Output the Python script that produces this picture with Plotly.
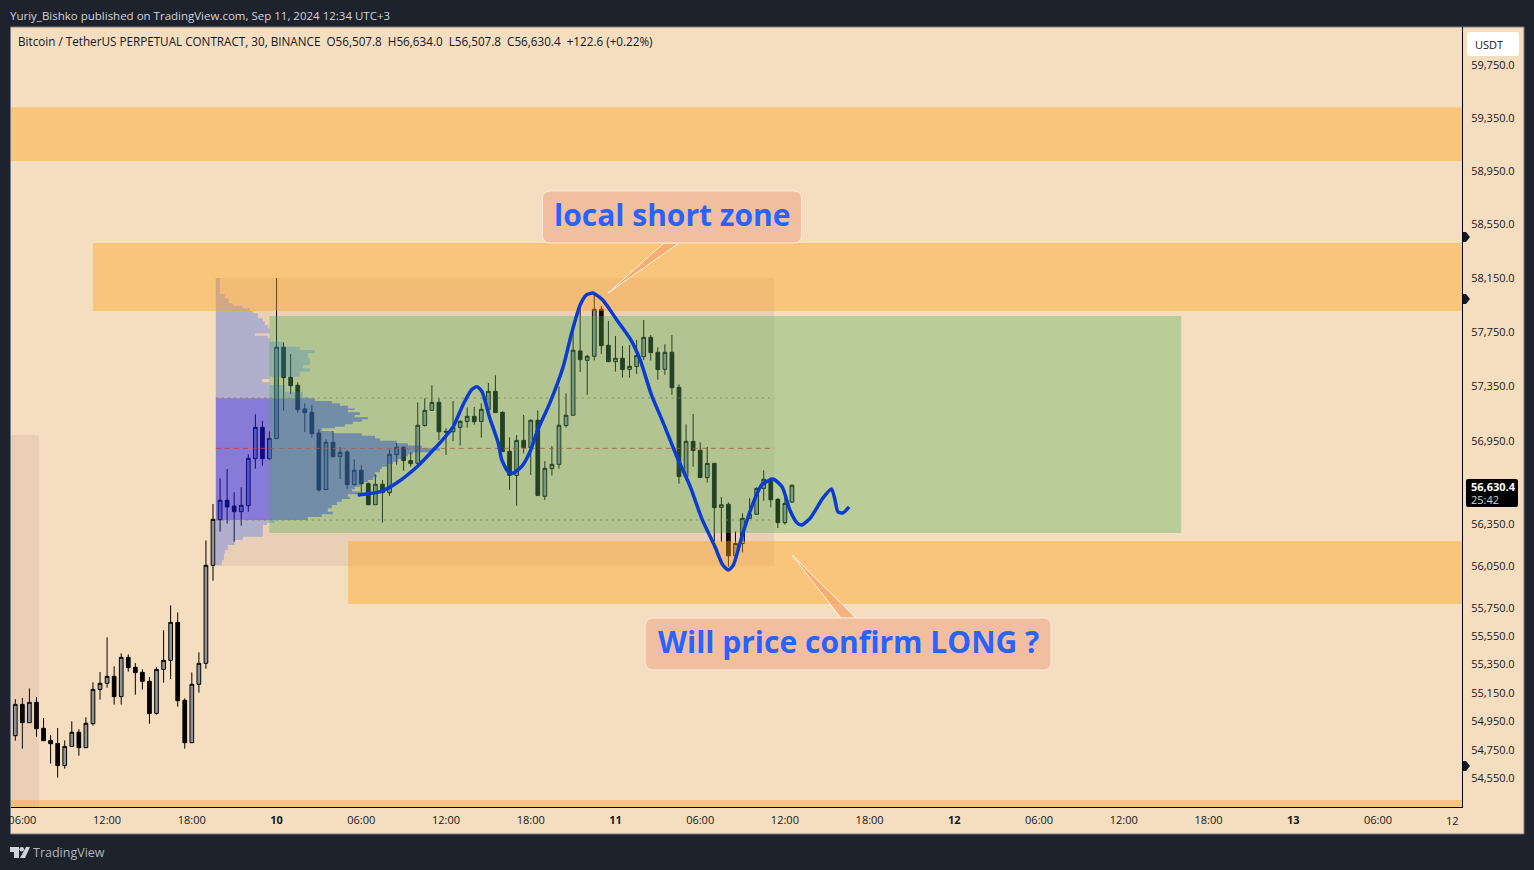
import math
import pandas as pd
import plotly.graph_objects as go

## Candles, 30 min bars from 2024-09-09 05:30
bar_open = [54848,55068,54939,55082,54900,54815,54794,54639,54773,54872,54764,54932,55173,55216,55265,55122,55399,55329,55293,55230,
	55005,55314,55378,55647,55096,54799,55209,55357,56054,56381,56521,56480,56439,56482,56822,57050,56822,56967,57636,57415,
	57357,57184,57159,57009,56598,56941,56837,56871,56634,56738,56641,56489,56637,56576,56851,56905,56808,56788,57063,57174,
	57232,57021,57018,57050,57093,57130,57093,57181,57313,57159,56876,56701,56955,56902,57101,56550,56750,56781,57063,57138,
	57609,57540,57570,57916,57651,57530,57555,57474,57494,57567,57709,57599,57474,57599,57342,56692,56948,56883,56685,56788,
	56470,56492,56122,56210,56391,56420,56607,56670,56528,56360,56507.8]
bar_high = [55105,55113,55180,55120,54972,54851,54902,54815,54949,54893,54977,55223,55296,55541,55336,55428,55421,55359,55314,55260,
	55329,55591,55768,55718,55110,55293,55435,56232,56494,56680,56747,56579,56615,56854,57145,57096,57021,58148,57672,57587,
	57379,57225,57213,57035,56963,57021,56905,56883,56817,56774,56651,56709,56668,56890,56936,56910,56868,57232,57262,57357,
	57262,57043,57242,57103,57196,57198,57225,57374,57430,57167,56977,56994,57140,57108,57174,56805,56914,57349,57298,57768,
	57948,57580,58034,57940,57830,57719,57646,57653,57690,57837,57726,57636,57658,57726,57364,57072,57147,56941,56907,56791,
	56545,56506,56297,56427,56537,56615,56738,56687,56537,56593,56634.0]
bar_low = [54813,54757,54939,54841,54813,54653,54555,54618,54773,54708,54764,54918,55101,55185,55066,55066,55298,55136,55171,54932,
	54996,55220,55246,55052,54757,54799,55150,55319,55944,56295,56353,56223,56338,56439,56750,56771,56815,56967,57172,57293,
	57157,57016,56975,56584,56598,56830,56675,56603,56627,56569,56489,56489,56360,56552,56779,56735,56764,56788,57055,57174,
	56958,56849,56950,56917,57047,57069,56975,57181,57157,56873,56596,56482,56861,56704,56555,56523,56699,56750,57047,57138,
	57454,57286,57540,57587,57530,57457,57413,57413,57440,57543,57538,57398,57433,57286,56641,56692,56764,56685,56649,56228,
	56223,56044,56122,56146,56388,56420,56518,56470,56321,56345,56507.8]
bar_close = [55068,54939,55082,54897,54813,54792,54639,54773,54872,54764,54935,55173,55216,55265,55122,55399,55326,55291,55230,55003,
	55314,55378,55647,55094,54799,55209,55357,56054,56384,56521,56473,56439,56485,56825,57050,56822,56970,57636,57413,57354,
	57179,57157,57004,56596,56941,56837,56868,56634,56738,56641,56489,56637,56576,56854,56905,56808,56786,57065,57174,57232,
	57018,57016,57050,57093,57130,57091,57181,57313,57157,56873,56701,56955,56902,57101,56555,56752,56781,57065,57138,57614,
	57545,57570,57916,57648,57530,57555,57472,57496,57575,57709,57597,57472,57599,57340,56692,56948,56881,56685,56788,56468,
	56489,56122,56210,56391,56420,56607,56673,56525,56360,56499,56630.4]

## Price axis
price_ticks = [59750,59350,58950,58550,58150,57750,57350,56950,56350,56050,55750,55550,55350,55150,54950,54750,54550]
price_low = 54351
price_high = 60041

## Time axis
time_ticks = ['2024-09-09 06:00','2024-09-09 12:00','2024-09-09 18:00','2024-09-10 00:00','2024-09-10 06:00','2024-09-10 12:00',
	'2024-09-10 18:00','2024-09-11 00:00','2024-09-11 06:00','2024-09-11 12:00','2024-09-11 18:00','2024-09-12 00:00',
	'2024-09-12 06:00','2024-09-12 12:00','2024-09-12 18:00','2024-09-13 00:00','2024-09-13 06:00']
time_labels = ['06:00','12:00','18:00','<b>10</b>','06:00','12:00','18:00','<b>11</b>','06:00','12:00','18:00','<b>12</b>',
	'06:00','12:00','18:00','<b>13</b>','06:00']

## Orange zones: start time, top price, bottom price
zone_start = ['2024-09-08 00:00','2024-09-09 11:00','2024-09-10 05:04','2024-09-08 00:00']
zone_top = [59430,58408,56228,54400]
zone_bottom = [59022,57903,55778,54300]
zone_end = '2024-09-15 00:00'

## Volume profile rows: row top price and row volume
vp_price = [58148,58030,57998,57960,57943,57923,57904,57886,57849,57825,57800,57775,57738,57721,57702,57677,57640,57616,57592,57555,
	57506,57481,57457,57420,57403,57379,57359,57310,57272,57262,57242,57225,57208,57188,57176,57159,57140,57123,57108,57091,
	57072,57055,57043,57023,57006,56989,56970,56953,56934,56917,56897,56881,56868,56854,56837,56820,56800,56783,56764,56747,
	56723,56704,56687,56668,56651,56631,56619,56600,56584,56564,56547,56530,56511,56487,56463,56439,56420,56401,56379,56357,
	56343,56307,56259,56235,56199,56163,56139,56091,56055]
vp_volume = [4,9,13,17,27,34,37,42,47,49,52,54,39,52,54,67,84,99,92,94,
	87,94,84,54,46,54,69,87,92,99,116,124,132,139,132,144,139,152,146,137,
	129,119,106,117,146,159,164,181,192,206,224,216,197,192,187,182,177,172,166,164,
	159,161,157,152,146,144,139,136,144,132,134,126,121,116,112,117,106,92,59,
	51,47,47,27,19,12,9,8,6]
vp_bottom = 56049
vp_start = pd.Timestamp('2024-09-09 19:42')
vp_end = '2024-09-11 11:15'
vp_minutes_per_volume = 4.25
poc_price = 56897
vah_price = 57264
val_price = 56379

## Long position box
green_start = '2024-09-09 23:30'
green_end = '2024-09-12 16:04'
green_top = 57867
green_bottom = 56286

## Hand drawn path: bar number and price
path_bar = [48.5,51.7,54.0,56.9,59.2,61.1,62.0,63.4,64.6,65.4,66.1,67.2,68.4,68.9,69.8,70.5,71.7,72.9,74.0,75.7,77.6,78.8,80.0,80.9,81.8,
	83.2,85.2,87.1,88.5,90.1,91.7,93.7,95.6,97.2,99.1,100.2,101.0,101.7,102.9,104.3,105.7,107.3,108.6,109.7,110.7,111.4,112.6,114.4,115.6,116.1,116.5,117.2,118.1]
path_price = [56559,56583,56646,56764,56885,56994,57052,57213,57323,57347,57310,57118,56936,56813,56728,56718,56764,56873,57031,57227,57493,57741,57948,58022,58037,
	57985,57837,57697,57543,57286,57091,56836,56619,56393,56187,56056,56020,56056,56259,56475,56631,56675,56619,56451,56360,56343,56393,56538,56603,56523,56439,56429,56473]

W = 1534
H = 870
left, right, top, bottom = 11, 1462, 27, 807
first_bar = pd.Timestamp('2024-09-09 05:30')
bar_time = [first_bar + pd.Timedelta(minutes=30 * i) for i in range(len(bar_open))]
path_time = [first_bar + pd.Timedelta(minutes=30 * b) for b in path_bar]

FONT = 'Open Sans'
INK = '#131722'

## Pixel position to paper fraction
def px(v):
	return (v - left) / (right - left)
def py(v):
	return (bottom - v) / (bottom - top)

def round_box(x0, y0, x1, y1, r):
	return (f'M{px(x0 + r)},{py(y0)} L{px(x1 - r)},{py(y0)} Q{px(x1)},{py(y0)} {px(x1)},{py(y0 + r)} '
		f'L{px(x1)},{py(y1 - r)} Q{px(x1)},{py(y1)} {px(x1 - r)},{py(y1)} L{px(x0 + r)},{py(y1)} '
		f'Q{px(x0)},{py(y1)} {px(x0)},{py(y1 - r)} L{px(x0)},{py(y0 + r)} Q{px(x0)},{py(y0)} {px(x0 + r)},{py(y0)} Z')

def poly(points):
	return 'M' + ' L'.join(f'{px(a)},{py(b)}' for a, b in points) + ' Z'

fig = go.Figure()
fig.add_trace(go.Candlestick(x=bar_time, open=bar_open, high=bar_high, low=bar_low, close=bar_close,
	increasing=dict(fillcolor='#8E9399', line=dict(color='#000000', width=1)),
	decreasing=dict(fillcolor='#000000', line=dict(color='#000000', width=1)),
	whiskerwidth=0, showlegend=False, hoverinfo='skip'))

def add_box(t0, t1, p0, p1, color):
	fig.add_trace(go.Scatter(x=[t0, t1, t1, t0, t0], y=[p0, p0, p1, p1, p0], mode='lines', fill='toself',
		fillcolor=color, line=dict(width=0), showlegend=False, hoverinfo='skip'))

## Pale session box on the left and the profile's frame
add_box('2024-09-08 00:00', '2024-09-09 07:10', 56994, 54300, 'rgba(135,82,121,0.1)')
add_box(vp_start, vp_end, 58148, vp_bottom, 'rgba(135,82,121,0.1)')

## Volume profile rows
row_x = {True: [], False: []}
row_y = {True: [], False: []}
for i, (p, v) in enumerate(zip(vp_price, vp_volume)):
	p2 = vp_price[i + 1] if i + 1 < len(vp_price) else vp_bottom
	t1 = vp_start + pd.Timedelta(minutes=v * vp_minutes_per_volume)
	inside = val_price < p <= vah_price
	row_x[inside] += [vp_start, t1, t1, vp_start, vp_start, None]
	row_y[inside] += [p, p, p2, p2, p, None]
for inside, color in ((False, 'rgba(28,93,255,0.28)'), (True, 'rgba(16,20,255,0.45)')):
	fig.add_trace(go.Scatter(x=row_x[inside], y=row_y[inside], mode='lines', fill='toself', fillcolor=color,
		line=dict(width=0), showlegend=False, hoverinfo='skip'))

for price, dash, color, width in ((vah_price, '2px,4px', 'rgba(150,110,90,0.45)', 2), (val_price, '2px,4px', 'rgba(150,110,90,0.45)', 2),
		(poc_price, '5px,4px', 'rgba(225,50,50,0.85)', 1)):
	fig.add_trace(go.Scatter(x=[vp_start, vp_end], y=[price, price], mode='lines',
		line=dict(color=color, dash=dash, width=width), showlegend=False, hoverinfo='skip'))

for s, a, b in zip(zone_start, zone_top, zone_bottom):
	add_box(s, zone_end, a, b, 'rgba(255,160,20,0.4)')
add_box(green_start, green_end, green_top, green_bottom, 'rgba(76,175,80,0.35)')

fig.add_trace(go.Scatter(x=path_time, y=path_price, mode='lines', line=dict(color='#0A3CD2', width=3.5, shape='spline', smoothing=0.6),
	showlegend=False, hoverinfo='skip'))

shapes = [
	dict(type='rect', xref='paper', yref='paper', x0=px(10.5), x1=px(1524), y0=py(27), y1=py(834), layer='below',
		fillcolor='#F5DEBF', line=dict(color='#787B86', width=1)),
]
## Callouts
for base, box in (([(664, 243), (679, 243), (608, 293)], (542.5, 191, 801.5, 243)),
		([(841, 618), (856, 618), (792, 555)], (645.5, 618, 1051, 670))):
	shapes.append(dict(type='path', xref='paper', yref='paper', path=poly(base), layer='above',
		fillcolor='rgba(242,165,105,0.75)', line=dict(color='rgba(255,255,255,0.8)', width=1)))
	shapes.append(dict(type='path', xref='paper', yref='paper', path=round_box(*box, 8), layer='above',
		fillcolor='#F1BF9F', line=dict(color='#FBE9DC', width=1)))
## Axis markers
for y in (237, 299, 766):
	shapes.append(dict(type='path', xref='paper', yref='paper', layer='above', fillcolor=INK, line=dict(width=0),
		path=poly([(1463, y - 5), (1466, y - 5), (1470, y), (1466, y + 5), (1463, y + 5)])))
## Price tag and currency button
shapes.append(dict(type='path', xref='paper', yref='paper', layer='above', fillcolor='#000000', line=dict(width=0),
	path=round_box(1466, 479, 1518, 507, 2)))
shapes.append(dict(type='path', xref='paper', yref='paper', layer='above', fillcolor='#FFFFFF', line=dict(width=0),
	path=round_box(1467, 32, 1519, 56, 3)))
## Logo
for path in (poly([(10, 847), (19, 847), (19, 858), (14, 858), (14, 852), (10, 852)]),
		poly([(26, 847), (30, 847), (25, 858), (20, 858)])):
	shapes.append(dict(type='path', xref='paper', yref='paper', path=path, fillcolor='#D1D4DC', line=dict(width=0), layer='above'))
shapes.append(dict(type='circle', xref='paper', yref='paper', x0=px(19.5), x1=px(24), y0=py(851.5), y1=py(847), fillcolor='#D1D4DC', line=dict(width=0), layer='above'))

def label(text, x, y, size, color, anchor='left', font=FONT):
	return dict(text=text, xref='paper', yref='paper', x=px(x - 2 if anchor == 'left' else x), y=py(y), xanchor=anchor, yanchor='middle', showarrow=False,
		font=dict(size=size, color=color, family=font), align=anchor)

annotations = [
	label('Yuriy_Bishko published on TradingView.com, Sep 11, 2024 12:34 UTC+3', 10, 15, 11.5, '#D1D4DC'),
	label('Bitcoin / TetherUS PERPETUAL CONTRACT, 30, BINANCE&nbsp;&nbsp;O56,507.8&nbsp;&nbsp;H56,634.0&nbsp;&nbsp;L56,507.8&nbsp;&nbsp;C56,630.4&nbsp;&nbsp;+122.6 (+0.22%)', 18, 41, 11.7, INK),
	label('<b>local short zone</b>', 672, 214, 30, '#2962FF', 'center'),
	label('<b>Will price confirm LONG ?</b>', 848, 641, 30, '#2962FF', 'center'),
	label('USDT', 1475, 44, 11, INK),
	label('<b>56,630.4</b>', 1471, 486, 11, '#FFFFFF'),
	label('25:42', 1471, 499, 11, '#D1D4DC'),
	label('12', 1461, 820, 11, INK, 'right'),
	label('TradingView', 33, 852, 12.5, '#B2B5BE'),
]

fig.update_layout(
	width=W, height=H, autosize=False,
	margin=dict(l=left, r=W - right, t=top, b=H - bottom, pad=0),
	paper_bgcolor='#1E222D', plot_bgcolor='#F5DEBF',
	boxgap=0.25, showlegend=False,
	shapes=shapes, annotations=annotations,
	xaxis=dict(type='date', range=['2024-09-09 05:11:42', '2024-09-13 11:57:00'], rangeslider=dict(visible=False),
		tickvals=time_ticks, ticktext=time_labels, ticks='', showgrid=False, zeroline=False,
		showline=True, linecolor='#000000', linewidth=1, ticklabelstandoff=3,
		tickfont=dict(family=FONT, size=11, color=INK), automargin=False),
	yaxis=dict(type='log', side='right', range=[math.log10(price_low), math.log10(price_high)],
		tickvals=price_ticks, ticktext=[f'{p:,.1f}' for p in price_ticks], ticks='', showgrid=False, zeroline=False,
		showline=True, linecolor='#000000', linewidth=1, ticklabelstandoff=6,
		tickfont=dict(family=FONT, size=11, color=INK), automargin=False),
)

fig.write_html('out.html', post_script="document.body.style.margin='0';", config={'displayModeBar': False})
